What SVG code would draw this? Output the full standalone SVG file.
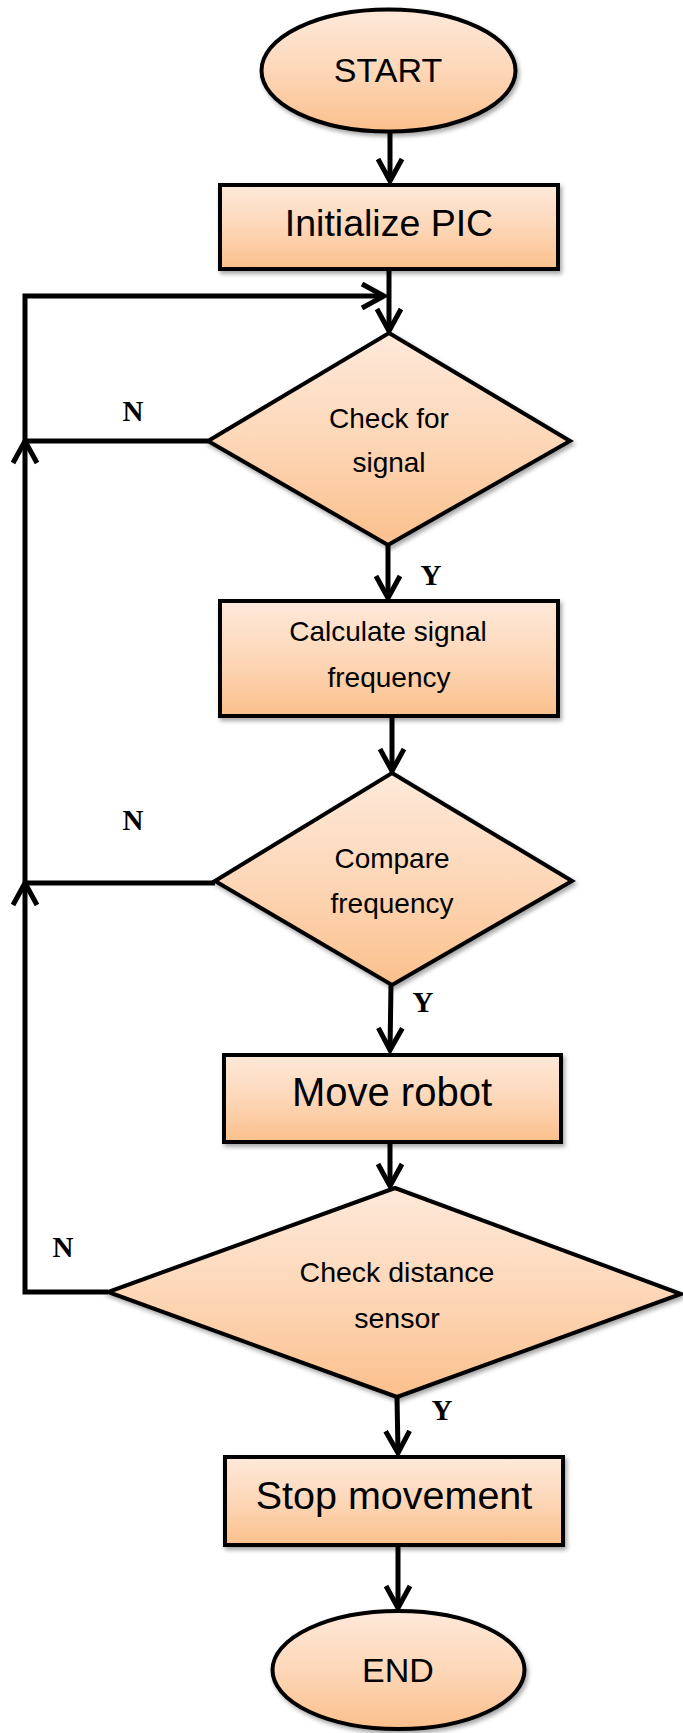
<svg xmlns="http://www.w3.org/2000/svg" width="683" height="1733" viewBox="0 0 683 1733">
  <defs>
    <linearGradient id="peach" x1="0" y1="0" x2="0" y2="1">
      <stop offset="0" stop-color="#FEE9DA"/>
      <stop offset="0.5" stop-color="#FDD7B8"/>
      <stop offset="1" stop-color="#FBC08C"/>
    </linearGradient>
    <filter id="shadow" x="-10%" y="-10%" width="125%" height="130%">
      <feDropShadow dx="2" dy="3" stdDeviation="2" flood-color="#000" flood-opacity="0.35"/>
    </filter>
    <marker id="arrow" markerUnits="userSpaceOnUse" viewBox="-30 -16 34 32" markerWidth="34" markerHeight="32" refX="0" refY="0" orient="auto" overflow="visible">
      <path d="M-22,-12 L0,0 L-22,12" fill="none" stroke="#000" stroke-width="5" stroke-linejoin="miter"/>
    </marker>
  </defs>
  <style>
    .shape { fill: url(#peach); stroke: #000; stroke-width: 4; filter: url(#shadow); }
    .conn { fill: none; stroke: #000; stroke-width: 5; }
    .arrowed { marker-end: url(#arrow); }
    .label { font-family: "Liberation Sans", Arial, sans-serif; fill: #000; text-anchor: middle; }
    .yn { font-family: "Liberation Serif", "Times New Roman", serif; font-weight: bold; font-size: 29px; fill: #000; text-anchor: middle; }
  </style>

  <!-- connectors -->
  <g id="connectors">
    <line class="conn arrowed" x1="390" y1="132" x2="390" y2="181"/>
    <line class="conn arrowed" x1="389" y1="270" x2="389" y2="331"/>
    <path class="conn" d="M208,441 L25,441"/>
    <path class="conn" d="M108,1292 L25,1292 L25,296 L384,296" marker-end="url(#arrow)"/>
    <path class="conn" d="M215,883 L25,883"/>
    <!-- upward arrowheads on the return line -->
    <path class="conn" d="M13,463 L25,441 L37,463"/>
    <path class="conn" d="M13,905 L25,883 L37,905"/>
    <line class="conn arrowed" x1="388" y1="545" x2="388" y2="598"/>
    <line class="conn arrowed" x1="392" y1="717" x2="392" y2="771"/>
    <line class="conn arrowed" x1="391" y1="985" x2="390" y2="1050"/>
    <line class="conn arrowed" x1="390" y1="1144" x2="390" y2="1186"/>
    <line class="conn arrowed" x1="397" y1="1397" x2="398" y2="1453"/>
    <line class="conn arrowed" x1="398" y1="1547" x2="398" y2="1608"/>
    <text class="yn" x="133" y="421">N</text>
    <text class="yn" x="133" y="830">N</text>
    <text class="yn" x="63" y="1257">N</text>
    <text class="yn" x="431" y="585">Y</text>
    <text class="yn" x="423" y="1012">Y</text>
    <text class="yn" x="442" y="1420">Y</text>
  </g>

  <g id="start">
    <ellipse class="shape" cx="388.5" cy="70.5" rx="127" ry="61"/>
    <text class="label" x="388" y="82" font-size="34">START</text>
  </g>

  <g id="init-pic">
    <rect class="shape" x="220" y="185" width="338" height="84"/>
    <text class="label" x="389" y="236" font-size="37.5">Initialize PIC</text>
  </g>

  <g id="check-signal">
    <polygon class="shape" points="389,333 570,441 388,545 208,441"/>
    <text class="label" x="389" y="428" font-size="28">Check for</text>
    <text class="label" x="389" y="472" font-size="28">signal</text>
  </g>

  <g id="calc-frequency">
    <rect class="shape" x="220" y="601" width="338" height="115"/>
    <text class="label" x="388" y="641" font-size="28">Calculate signal</text>
    <text class="label" x="389" y="687" font-size="28">frequency</text>
  </g>

  <g id="compare-frequency">
    <polygon class="shape" points="392,773 572,881 392,985 215,881"/>
    <text class="label" x="392" y="868" font-size="28">Compare</text>
    <text class="label" x="392" y="913" font-size="28">frequency</text>
  </g>

  <g id="move-robot">
    <rect class="shape" x="224" y="1055" width="337" height="87"/>
    <text class="label" x="392" y="1106" font-size="40">Move robot</text>
  </g>

  <g id="check-distance">
    <polygon class="shape" points="395,1188 681,1294 397,1397 108,1292"/>
    <text class="label" x="397" y="1282" font-size="28.5">Check distance</text>
    <text class="label" x="397" y="1328" font-size="28.5">sensor</text>
  </g>

  <g id="stop-movement">
    <rect class="shape" x="225" y="1457" width="338" height="88"/>
    <text class="label" x="394" y="1509" font-size="39.5">Stop movement</text>
  </g>

  <g id="end">
    <ellipse class="shape" cx="398.5" cy="1670" rx="126" ry="59"/>
    <text class="label" x="398" y="1682" font-size="34">END</text>
  </g>
</svg>
